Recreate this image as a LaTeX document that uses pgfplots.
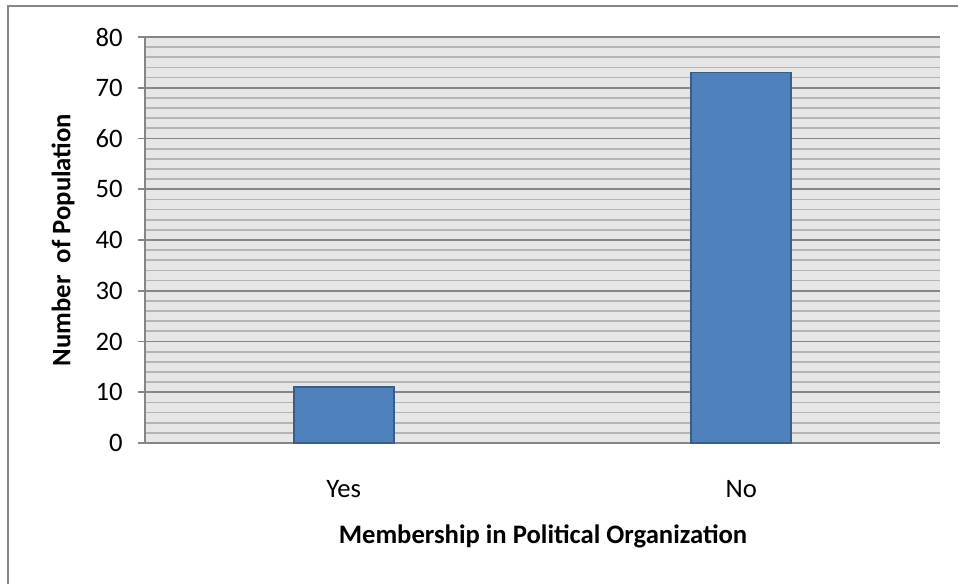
\documentclass[border=0pt]{standalone}
\usepackage{pgfplots}
\pgfplotsset{compat=1.18}
\usepackage{fontspec}
\setmainfont{Carlito}
\definecolor{barfill}{HTML}{4F81BD}
\definecolor{baredge}{HTML}{385D8A}
\definecolor{axgray}{HTML}{868686}
\definecolor{minorgray}{HTML}{B4B4B4}
\definecolor{plotbg}{HTML}{E6E6E6}
\begin{document}
\begin{tikzpicture}[x=0.75pt,y=0.75pt]
\useasboundingbox (0,0) rectangle (958,583);
\draw[axgray, line width=1.3pt] (8,-5) -- (8,577) -- (965,577);
\begin{axis}[
  at={(108.75pt,105pt)}, anchor=south west,
  scale only axis,
  width=596.25pt, height=304.5pt,
  xmin=-0.5, xmax=1.5,
  ymin=0, ymax=80,
  xtick={0,1}, xticklabels={Yes,No},
  ytick={0,10,...,80},
  minor y tick num=4,
  axis x line*=bottom, axis y line*=left,
  axis line style={axgray, line width=1.6pt},
  axis background/.style={fill=plotbg},
  ymajorgrids, yminorgrids,
  major grid style={axgray, line width=1.3pt},
  minor grid style={minorgray, line width=1.3pt},
  tick align=outside,
  major tick length=5.25pt,
  minor tick length=0pt,
  x tick style={draw=none},
  y tick style={axgray, line width=1.3pt},
  tick label style={font=\fontsize{20}{24}\selectfont, text=black},
  xticklabel style={yshift=-19pt},
  yticklabel style={xshift=-8pt},
  /pgf/number format/assume math mode=true,
  ybar, bar width=75pt,
]
\addplot[fill=barfill, draw=baredge, line width=1.2pt] coordinates {(0,11) (1,73)};
\end{axis}
\node[rotate=90, font=\fontsize{20}{24}\selectfont\bfseries] at (63,343) {Number\ \ of Population};
\node[font=\fontsize{20}{24}\selectfont\bfseries] at (543,47) {Membership in Political Organization};
\end{tikzpicture}
\end{document}
